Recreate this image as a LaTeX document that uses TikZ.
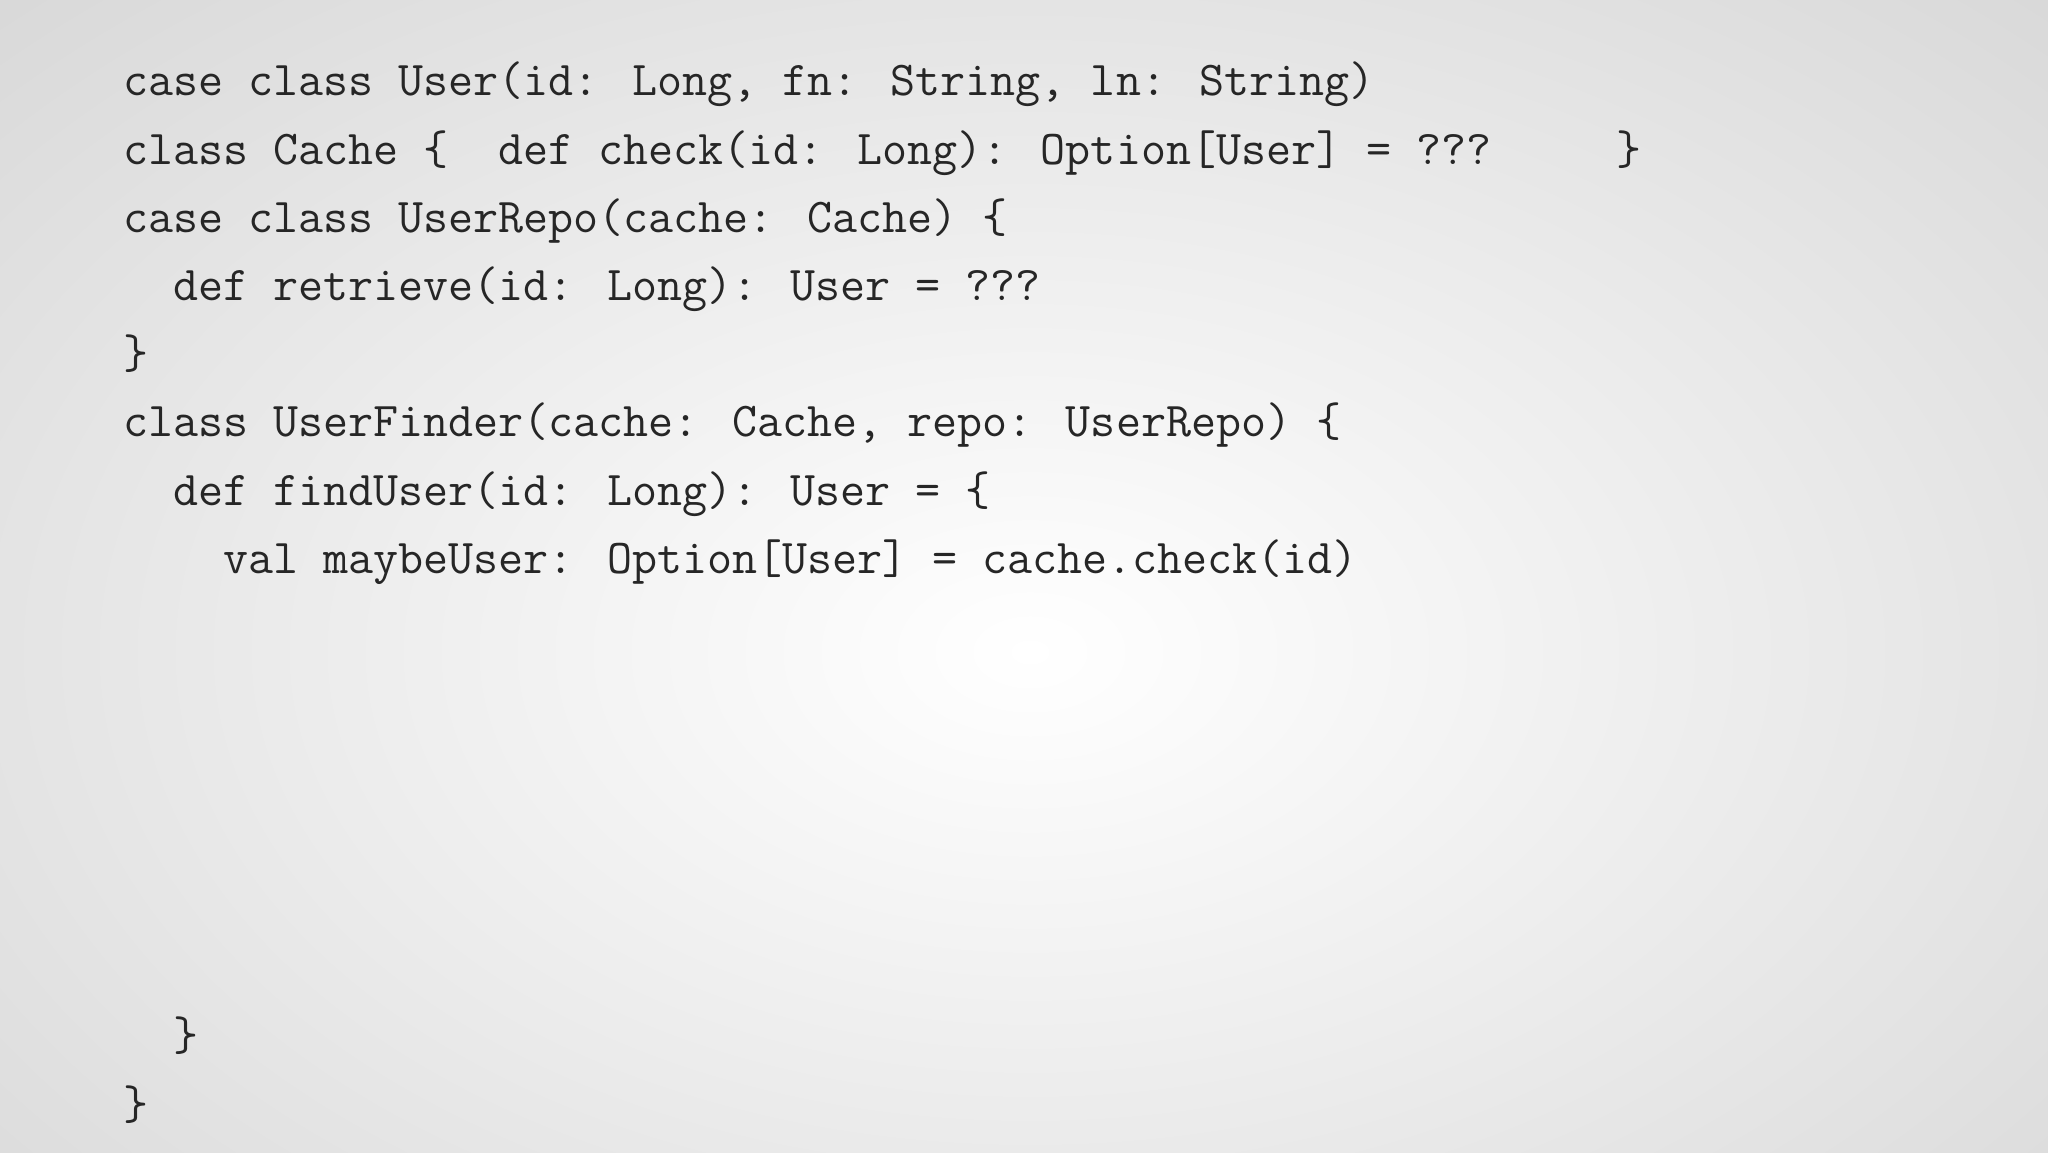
\documentclass[tikz,border=0pt]{standalone}
\begin{document}
\begin{tikzpicture}[x=1pt,y=1pt,
  code/.style={anchor=base west,inner sep=0pt,font=\ttfamily\fontsize{24.3}{26}\selectfont,text=black!85}]
\useasboundingbox (0,0) rectangle (1024,576);
\shade[inner color=white,outer color=black!16] (-260,-240) rectangle (1290,740);
\def\L#1{576-48-34.1*(#1-1)}
\node[code] (l1) at (61.4,{\L{1}}) {case class User(id: Long, fn: String, ln: String)};
\node[code] (l2) at (61.4,{\L{2}}) {class Cache \{\ \ def check(id: Long): Option[User] = ???\ \ \ \ \ \}};
\node[code] (l3) at (61.4,{\L{3}}) {case class UserRepo(cache: Cache) \{};
\node[code] (l4) at (61.4,{\L{4}}) {\ \ def retrieve(id: Long): User = ???};
\node[code] (l5) at (61.4,{\L{5}}) {\}};
\node[code] (l6) at (61.4,{\L{6}}) {class UserFinder(cache: Cache, repo: UserRepo) \{};
\node[code] (l7) at (61.4,{\L{7}}) {\ \ def findUser(id: Long): User = \{};
\node[code] (l8) at (61.4,{\L{8}}) {\ \ \ \ val maybeUser: Option[User] = cache.check(id)};
\node[code] (l15) at (61.4,{\L{15}}) {\ \ \}};
\node[code] (l16) at (61.4,{\L{16}}) {\}};
\end{tikzpicture}
\end{document}
